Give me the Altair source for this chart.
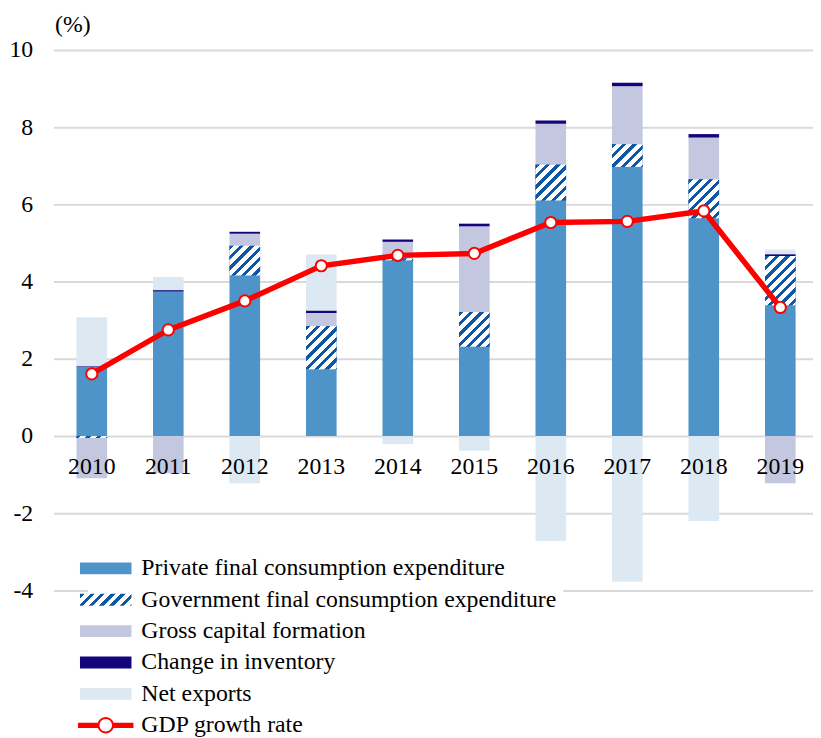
import json
import altair as alt

# ---------------- data ----------------
years = [2010, 2011, 2012, 2013, 2014, 2015, 2016, 2017, 2018, 2019]
private_consumption = [1.79, 3.74, 4.16, 1.73, 4.55, 2.31, 6.10, 6.97, 5.64, 3.39]
government_consumption = [-0.05, 0.00, 0.77, 1.12, 0.05, 0.90, 0.93, 0.59, 1.01, 1.27]
gross_capital = [-1.04, -0.96, 0.31, 0.34, 0.43, 2.22, 1.06, 1.50, 1.08, -1.22]
inventory_change = [0.02, 0.04, 0.05, 0.06, 0.06, 0.07, 0.08, 0.09, 0.09, 0.05]
net_exports = [1.27, 0.34, -1.22, 1.45, -0.21, -0.38, -2.72, -3.77, -2.20, 0.12]
gdp_growth = [1.61, 2.75, 3.50, 4.41, 4.68, 4.73, 5.53, 5.56, 5.83, 3.33]

series_names = [
    "Private final consumption expenditure",
    "Government final consumption expenditure",
    "Gross capital formation",
    "Change in inventory",
    "Net exports",
]
line_name = "GDP growth rate"
y_ticks = [-4, -2, 0, 2, 4, 6, 8, 10]

# ---------------- styles ----------------
FONT = "Liberation Serif"
C_PRIVATE = "#4F94C8"
C_HATCH = "#0F57A5"
C_CAPITAL = "#C3C8E0"
C_INVENT = "#15047A"
C_NETEXP = "#DCE9F3"
C_LINE = "#FF0000"

Y_MIN, Y_MAX = -4, 10
PLOT_W, PLOT_H = 767, 546
PX_PER_UNIT = PLOT_H / (Y_MAX - Y_MIN)
BAR_W = 30.9
HATCH_PERIOD = 10.4
HATCH_FRAC = 0.42


def hatch(w, h):
    """45 degree stripe pattern as a linear gradient in bounding-box units."""
    s = (w + h) / (w * w + h * h)
    n = (w + h) / HATCH_PERIOD
    stops = []
    k = 0
    while k < n:
        a = k / n
        b = min((k + HATCH_FRAC) / n, 1.0)
        c = min((k + 1) / n, 1.0)
        stops.append({"offset": round(a, 4), "color": C_HATCH})
        stops.append({"offset": round(b, 4), "color": C_HATCH})
        if b < 1.0:
            stops.append({"offset": round(b, 4), "color": "#FFFFFF"})
            stops.append({"offset": round(c, 4), "color": "#FFFFFF"})
        k += 1
    return {"gradient": "linear", "x1": 0, "y1": 0,
            "x2": round(s * w, 4), "y2": round(s * h, 4), "stops": stops}


series_values = [private_consumption, government_consumption, gross_capital,
                 inventory_change, net_exports]

rows = []
for i, yr in enumerate(years):
    for j, name in enumerate(series_names):
        r = {"year": yr, "series": name, "order": j, "value": series_values[j][i]}
        if j == 1:
            r["grad"] = hatch(BAR_W, max(abs(series_values[j][i]) * PX_PER_UNIT, 1.0))
        rows.append(r)

line_rows = [{"year": yr, "gdp": g} for yr, g in zip(years, gdp_growth)]

# ---------------- scales / axes ----------------
x_scale = alt.Scale(range=[0, 772.6], paddingInner=0.6, paddingOuter=0.3)
y_scale = alt.Scale(domain=[Y_MIN, Y_MAX], nice=False, zero=False)

x_axis = alt.Axis(title=None, labelAngle=0, domain=False, ticks=False,
                  labelPadding=30.5, labelBaseline="middle",
                  offset=-PLOT_H * (0 - Y_MIN) / (Y_MAX - Y_MIN), zindex=1,
                  labelFont=FONT, labelFontSize=24, labelColor="#000000", grid=False)
y_axis = alt.Axis(values=y_ticks, labelExpr="'' + datum.value", grid=True,
                  gridColor="#D9D9D9", gridWidth=2, domain=False, ticks=False,
                  labelPadding=21, labelFont=FONT, labelFontSize=24,
                  labelColor="#000000", title="(%)", titleAngle=0, titleX=1,
                  titleY=-19, titleAlign="left", titleBaseline="alphabetic",
                  titleFont=FONT, titleFontSize=24, titleFontWeight="normal",
                  titleColor="#000000")

X = alt.X("year:O", scale=x_scale, axis=x_axis)

# ---------------- legend (shape legend with custom symbols) ----------------
RECT_PATH = "M-5.2,-1.2H5.2V1.2H-5.2Z"
GDP_PATH = ("M-5.6,-0.53H-1.5V0.53H-5.6Z M1.5,-0.53H5.6V0.53H1.5Z "
            "M1.66,0A1.66,1.66,0,1,1,-1.66,0A1.66,1.66,0,1,1,1.66,0Z "
            "M1.26,0A1.26,1.26,0,1,0,-1.26,0A1.26,1.26,0,1,0,1.26,0Z")
all_names = series_names + [line_name]
legend_fill_values = [json.dumps(C_PRIVATE), json.dumps(hatch(52, 12)),
                      json.dumps(C_CAPITAL), json.dumps(C_INVENT),
                      json.dumps(C_NETEXP)]
fill_expr = json.dumps(C_LINE)
for n, f in reversed(list(zip(series_names, legend_fill_values))):
    fill_expr = f"datum.series === {json.dumps(n)} || datum.value === {json.dumps(n)} ? {f} : ({fill_expr})"

legend = alt.Legend(
    title=None, orient="none", legendX=34.7, legendY=505.6,
    symbolSize=100, symbolStrokeWidth=0, symbolOpacity=1,
    labelFont=FONT, labelFontSize=24, labelColor="#000000", labelLimit=0,
    labelOffset=24, padding=6, fillColor="#FFFFFF", rowPadding=7.7,
    labelExpr="datum.label + '\u00a0\u00a0\u00a0\u00a0'",
)

legend_layer = alt.Chart(alt.Data(values=rows)).transform_filter("false").mark_point(
    filled=True, fill=alt.ExprRef(fill_expr), stroke="transparent", strokeWidth=0,
    opacity=1).encode(
    x=X,
    y=alt.Y("value:Q", scale=y_scale, axis=y_axis, title="(%)"),
    shape=alt.Shape("series:N",
                    scale=alt.Scale(domain=all_names, range=[RECT_PATH] * 5 + [GDP_PATH]),
                    legend=legend),
)

# ---------------- layers ----------------
stacked = alt.Chart(alt.Data(values=rows)).transform_stack(
    stack="value", as_=["v0", "v1"], groupby=["year"],
    sort=[alt.SortField("order", order="ascending")])

bars = stacked.mark_bar().encode(
    x=X,
    y=alt.Y("v0:Q", scale=y_scale, axis=y_axis, title="(%)"),
    y2="v1:Q",
    color=alt.Color("series:N",
                    scale=alt.Scale(domain=series_names,
                                    range=[C_PRIVATE, C_HATCH, C_CAPITAL, C_INVENT, C_NETEXP]),
                    legend=None),
)

hatched = stacked.transform_filter("datum.order === 1").mark_bar(
    fill=alt.ExprRef("datum.grad")).encode(
    x=X,
    y=alt.Y("v0:Q", scale=y_scale, axis=y_axis, title="(%)"),
    y2="v1:Q",
)

line = alt.Chart(alt.Data(values=line_rows)).mark_line(
    color=C_LINE, strokeWidth=5.5).encode(
    x=X, y=alt.Y("gdp:Q", scale=y_scale, axis=y_axis, title="(%)"))

points = alt.Chart(alt.Data(values=line_rows)).mark_point(
    shape="circle", filled=True, fill="#FFFFFF", stroke=C_LINE, strokeWidth=2,
    size=128, opacity=1).encode(
    x=X, y=alt.Y("gdp:Q", scale=y_scale, axis=y_axis, title="(%)"))

chart = alt.layer(bars, hatched, line, points, legend_layer).properties(
    width=PLOT_W, height=PLOT_H,
    autosize=alt.AutoSizeParams(type="none"),
    padding={"left": 46, "top": 38.7, "right": 0, "bottom": 145.3},
).configure_view(stroke="transparent")

chart.save("out.html", embed_options={"renderer": "svg", "actions": False})
